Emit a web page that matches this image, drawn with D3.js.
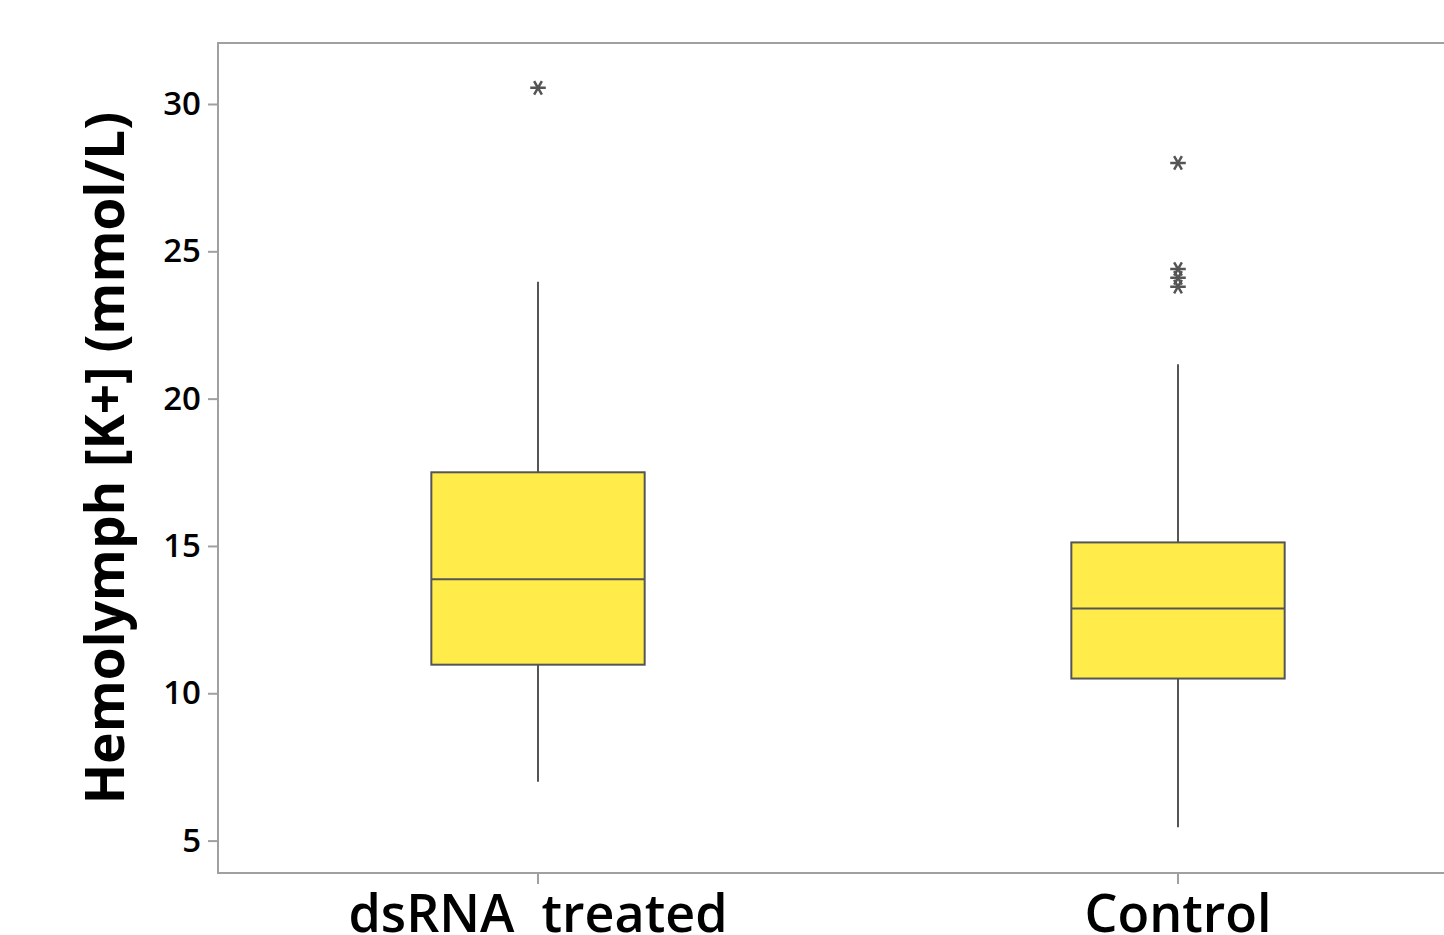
<!DOCTYPE html>
<html>
<head>
<meta charset="utf-8">
<script src="https://cdn.jsdelivr.net/npm/d3@7"></script>
<style>
  body { margin: 0; background: #fff; }
  svg { display: block; }
</style>
</head>
<body>
<svg id="chart" width="1444" height="935"></svg>
<script>
// box plot data
var groups = ["dsRNA  treated", "Control"];
var q1 = [10.97, 10.5];
var median = [13.87, 12.88];
var q3 = [17.5, 15.12];
var whiskerLow = [7.0, 5.45];
var whiskerHigh = [23.97, 21.17];
var outliers = [[30.55], [28.0, 24.4, 24.1, 23.8]];
var yTicks = [5, 10, 15, 20, 25, 30];

var svg = d3.select("#chart");
// note: "top" is taken by window.top, so use a plain object
var frame = { left: 218, top: 43, bottom: 873, right: 1498 };

var x = d3.scaleBand()
    .domain(groups)
    .range([frame.left, frame.right])
    .padding(0);
var y = d3.scaleLinear()
    .domain([3.9, 32.07])
    .range([frame.bottom, frame.top]);

var boxW = x.bandwidth() / 3;
var cx = (i) => x(groups[i]) + x.bandwidth() / 2;
var font = "'Open Sans', 'Noto Sans', sans-serif";

// frame
svg.append("path")
    .attr("d", `M${frame.right},${frame.top}H${frame.left}V${frame.bottom}H${frame.right}`)
    .attr("fill", "none")
    .attr("stroke", "#a0a0a0")
    .attr("stroke-width", 2);

// y axis
var yAxis = svg.append("g")
    .attr("transform", `translate(${frame.left},0)`)
    .call(d3.axisLeft(y).tickValues(yTicks).tickSize(10).tickPadding(7));
yAxis.select(".domain").remove();
yAxis.selectAll(".tick line").attr("stroke", "#a0a0a0").attr("stroke-width", 2);
yAxis.selectAll(".tick text")
    .attr("fill", "#000")
    .style("font-family", font)
    .style("font-size", "33px")
    .style("font-weight", 600);

// x axis
var xAxis = svg.append("g")
    .attr("transform", `translate(0,${frame.bottom})`)
    .call(d3.axisBottom(x).tickSize(11).tickPadding(11));
xAxis.select(".domain").remove();
xAxis.selectAll(".tick line").attr("stroke", "#a0a0a0").attr("stroke-width", 2);
xAxis.selectAll(".tick text")
    .attr("fill", "#000")
    .style("white-space", "pre")
    .style("font-family", font)
    .style("font-size", "52px")
    .style("font-weight", 600);

// y title
svg.append("text")
    .attr("transform", `translate(124,${(frame.top + frame.bottom) / 2}) rotate(-90)`)
    .attr("text-anchor", "middle")
    .style("font-family", font)
    .style("font-size", "53px")
    .style("font-weight", 700)
    .text("Hemolymph [K+] (mmol/L)");

var stroke = "#555";
var boxes = svg.append("g");
groups.forEach(function (g, i) {
    var c = cx(i);
    // whiskers
    boxes.append("line")
        .attr("x1", c).attr("x2", c)
        .attr("y1", y(q3[i])).attr("y2", y(whiskerHigh[i]))
        .attr("stroke", stroke).attr("stroke-width", 2);
    boxes.append("line")
        .attr("x1", c).attr("x2", c)
        .attr("y1", y(q1[i])).attr("y2", y(whiskerLow[i]))
        .attr("stroke", stroke).attr("stroke-width", 2);
    // box
    boxes.append("rect")
        .attr("x", c - boxW / 2)
        .attr("y", y(q3[i]))
        .attr("width", boxW)
        .attr("height", y(q1[i]) - y(q3[i]))
        .attr("fill", "#ffec4a")
        .attr("stroke", stroke).attr("stroke-width", 2);
    boxes.append("line")
        .attr("x1", c - boxW / 2).attr("x2", c + boxW / 2)
        .attr("y1", y(median[i])).attr("y2", y(median[i]))
        .attr("stroke", stroke).attr("stroke-width", 2);
    // outliers
    boxes.selectAll(null)
        .data(outliers[i])
        .enter()
        .append("path")
        .attr("d", d3.symbol(d3.symbolAsterisk, 170))
        .attr("transform", (d) => `translate(${c},${y(d)}) rotate(90)`)
        .attr("fill", "none")
        .attr("stroke", stroke)
        .attr("stroke-width", 2.5);
});
</script>
</body>
</html>
